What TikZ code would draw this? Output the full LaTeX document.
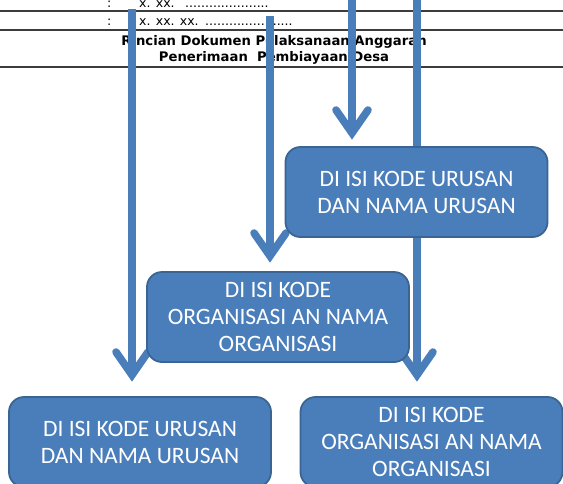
\documentclass[tikz,border=0pt]{standalone}
\usepackage{fontspec}
\setmainfont{Carlito}
\newfontfamily\hdrfont{DejaVu Sans}
\usetikzlibrary{calc}
\definecolor{arrowblue}{HTML}{4A7EBB}
\definecolor{boxfill}{HTML}{4A7EBB}
\definecolor{boxedge}{HTML}{3A6494}
\definecolor{rulegray}{HTML}{3C3C3C}

% shaft plus open chevron head, drawn from a start coordinate to a tip coordinate
\newcommand\flowarrow[2]{%
  \draw[flow] (#1) -- (#2);
  \draw[flow, line cap=round, line join=miter, miter limit=10]
    ($(#2)+(-16,-23)$) -- (#2) -- ($(#2)+(16,-23)$);}

\begin{document}
\begin{tikzpicture}[x=1pt,y=-1pt,
  rule/.style={rulegray, line width=1.3pt},
  hdr/.style={inner sep=0pt, anchor=base west, font=\hdrfont\fontsize{12.5}{15}\selectfont},
  title/.style={inner sep=0pt, anchor=base, font=\hdrfont\bfseries\fontsize{13.2}{16}\selectfont},
  flow/.style={arrowblue, line width=7.6pt},
  infobox/.style={draw=boxedge, line width=1.8pt, fill=boxfill, rounded corners=15pt,
    minimum width=262pt, minimum height=90pt, text=white, align=center, inner sep=0pt,
    font=\fontsize{23.5}{27}\selectfont}
]
\useasboundingbox (0,0) rectangle (563,483);
\begin{scope}
\clip (0,0) rectangle (563,483);

% header table
\draw[rule] (0,11) -- (563,11);
\draw[rule] (0,30) -- (563,30);
\draw[rule] (0,67) -- (563,67);
\node[hdr] (colon1) at (107,7.5) {:};
\node[hdr] (code1) at (139,7.5) {x. xx.};
\node[hdr] (dots1) at (185,7.5) {.....................};
\node[hdr] (colon2) at (107,25) {:};
\node[hdr] (code2) at (139,25) {x. xx. xx.};
\node[hdr] (dots2) at (205,25) {......................};
\node[title] (title1) at (274,45) {Rincian Dokumen Pelaksanaan Anggaran};
\node[title] (title2) at (274,61) {Penerimaan\ \ Pembiayaan Desa};

% arrow end points
\coordinate (aS) at (132,9);   \coordinate (aE) at (132,375);
\coordinate (bS) at (270,16);  \coordinate (bE) at (270,256);
\coordinate (cS) at (352,-5);  \coordinate (cE) at (352,133);
\coordinate (dS) at (417,-5);  \coordinate (dE) at (417,375);

\flowarrow{aS}{aE}
\flowarrow{bS}{bE}
\flowarrow{cS}{cE}
\flowarrow{dS}{dE}

% boxes
\node[infobox] (urusanTop) at (416.5,192) {DI ISI KODE URUSAN\\DAN NAMA URUSAN};
\node[infobox] (orgMid) at (278,317) {DI ISI KODE\\ORGANISASI AN NAMA\\ORGANISASI};
\node[infobox] (urusanLow) at (140,442) {DI ISI KODE URUSAN\\DAN NAMA URUSAN};
\node[infobox] (orgLow) at (431.5,442) {DI ISI KODE\\ORGANISASI AN NAMA\\ORGANISASI};
\end{scope}
\end{tikzpicture}
\end{document}
